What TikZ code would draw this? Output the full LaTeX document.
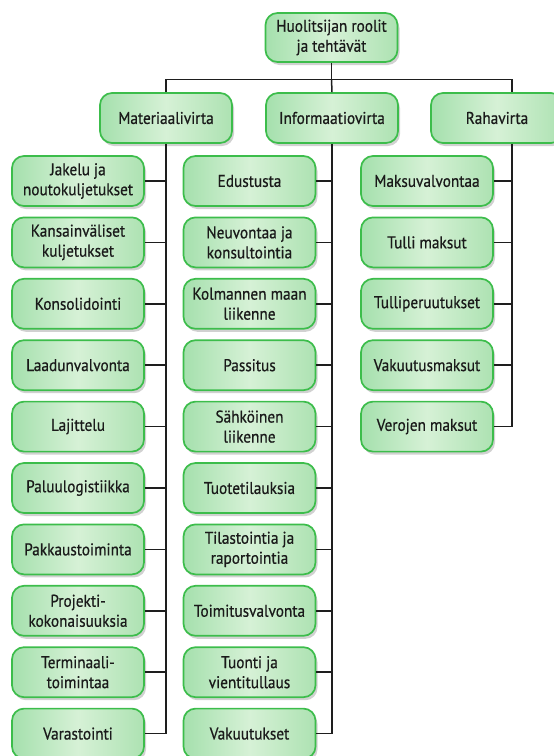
\documentclass[tikz,border=0pt]{standalone}
\usepackage{fontspec}
\setmainfont{PT Sans}[FakeStretch = 0.9, FakeBold = 0.6]
\usetikzlibrary{positioning}
\usetikzlibrary{shadows}
\definecolor{boxborder}{HTML}{3CBD4B}
\definecolor{boxleft}{HTML}{A5E0AD}
\definecolor{boxmiddle}{HTML}{D6F1D6}
\definecolor{boxright}{HTML}{ADE2B2}
\definecolor{boxtext}{HTML}{1A1A1A}
\definecolor{linecol}{HTML}{1E1E1E}
\begin{document}
\begin{tikzpicture}
			[
				x = 1pt, y = -1pt,
				node distance = 9.7pt,
				mybox/.style = {draw = boxborder, line width = 1.7pt, rounded corners = 12pt, left color = boxleft, right color = boxright, middle color = boxmiddle, minimum height = 50pt, minimum width = 132pt, inner sep = 2pt, align = center, text = boxtext, font = \fontsize{17}{20}\selectfont, drop shadow = {shadow xshift = 2pt, shadow yshift = -3pt, opacity = 0.18, fill = black}},
				myline/.style = {line width = 1.5pt, draw = linecol}
			]
			\useasboundingbox (0,0) rectangle (554,756);
			\clip (0,0) rectangle (554,756);
			%
			\node (roles) [mybox, minimum height = 49pt] at (331.5, 37.5) {Huolitsijan roolit\\ja tehtävät};
			%
			\node (material) [mybox] at (166, 118) {Materiaalivirta};
			\node (information) [mybox] at (332, 118) {Informaatiovirta};
			\node (money) [mybox] at (497, 118) {Rahavirta};
			\coordinate (moneytop) at ([xshift = 15pt]money.north);
			\coordinate (moneyspine) at ([xshift = 15pt]money.south);
			%
			\draw [myline] (roles.south) -- ++(0, 16.5) coordinate (junction);
			\draw [myline] (material.north) |- (junction) -| (moneytop);
			\draw [myline] (junction) -- (information.north);
			%
			\node (mat1) [mybox] at (78, 181) {Jakelu ja\\noutokuljetukset};
			\node (mat2) [mybox, below = of mat1] {Kansainväliset\\kuljetukset};
			\node (mat3) [mybox, below = of mat2] {Konsolidointi};
			\node (mat4) [mybox, below = of mat3] {Laadunvalvonta};
			\node (mat5) [mybox, below = of mat4] {Lajittelu};
			\node (mat6) [mybox, below = of mat5] {Paluulogistiikka};
			\node (mat7) [mybox, below = of mat6] {Pakkaustoiminta};
			\node (mat8) [mybox, below = of mat7] {Projekti-\\kokonaisuuksia};
			\node (mat9) [mybox, below = of mat8] {Terminaali-\\toimintaa};
			\node (mat10) [mybox, below = of mat9] {Varastointi};
			%
			\node (inf1) [mybox] at (249.5, 181) {Edustusta};
			\node (inf2) [mybox, below = of inf1] {Neuvontaa ja\\konsultointia};
			\node (inf3) [mybox, below = of inf2] {Kolmannen maan\\liikenne};
			\node (inf4) [mybox, below = of inf3] {Passitus};
			\node (inf5) [mybox, below = of inf4] {Sähköinen\\liikenne};
			\node (inf6) [mybox, below = of inf5] {Tuotetilauksia};
			\node (inf7) [mybox, below = of inf6] {Tilastointia ja\\raportointia};
			\node (inf8) [mybox, below = of inf7] {Toimitusvalvonta};
			\node (inf9) [mybox, below = of inf8] {Tuonti ja\\vientitullaus};
			\node (inf10) [mybox, below = of inf9] {Vakuutukset};
			%
			\node (mon1) [mybox] at (427, 181) {Maksuvalvontaa};
			\node (mon2) [mybox, below = of mon1] {Tulli maksut};
			\node (mon3) [mybox, below = of mon2] {Tulliperuutukset};
			\node (mon4) [mybox, below = of mon3] {Vakuutusmaksut};
			\node (mon5) [mybox, below = of mon4] {Verojen maksut};
			%
			\draw [myline] (material.south) |- (mat10.east);
			\draw [myline] (information.south) |- (inf10.east);
			\draw [myline] (moneyspine) |- (mon5.east);
			\foreach \i in {1,...,9}
			{
				\draw [myline] (mat\i.east) -- (mat\i.east -| material.south);
				\draw [myline] (inf\i.east) -- (inf\i.east -| information.south);
			}
			\foreach \i in {1,...,4}
				\draw [myline] (mon\i.east) -- (mon\i.east -| moneyspine);
			%
		\end{tikzpicture}
\end{document}
